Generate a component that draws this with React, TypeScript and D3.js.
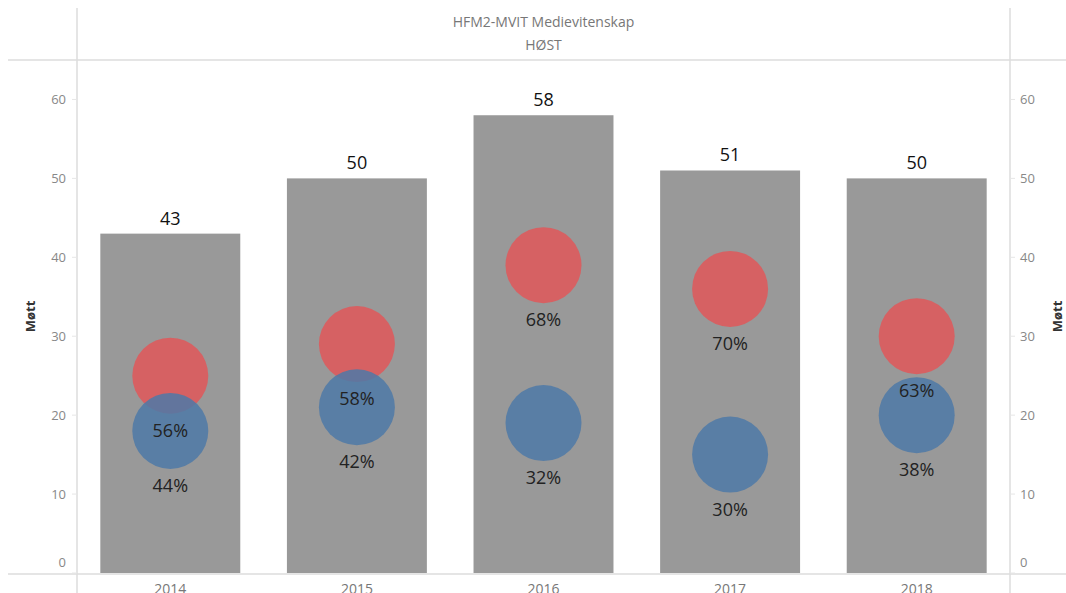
import React from 'react';
import * as d3 from 'd3';

const years = ['2014', '2015', '2016', '2017', '2018'];
const totals = [43, 50, 58, 51, 50];
const redValues = [25, 29, 39, 36, 30];
const blueValues = [18, 21, 19, 15, 20];
const redPct = ['56%', '58%', '68%', '70%', '63%'];
const bluePct = ['44%', '42%', '32%', '30%', '38%'];
const yTicks = [0, 10, 20, 30, 40, 50, 60];

const W = 1066;
const H = 593;
const left = 77;
const right = 1010;
const top = 60;
const base = 573;
const font = '"Open Sans", "Noto Sans", sans-serif';

const App = () => {
  const x = d3.scaleBand().domain(years).range([left, right]).paddingInner(0.25).paddingOuter(0.125);
  const y = d3.scaleLinear().domain([0, 65]).range([base, top]);
  const r = 38;
  const lineColor = '#dcdcdc';

  return (
    <svg width={W} height={H} style={{ position: 'absolute', left: 0, top: 0, background: '#fff' }}>
      {/* header */}
      <text x={(left + right) / 2} y={27} textAnchor="middle" fontFamily={font} fontSize={14} fill="#777">
        HFM2-MVIT Medievitenskap
      </text>
      <text x={(left + right) / 2} y={50} textAnchor="middle" fontFamily={font} fontSize={14} fill="#777">
        HØST
      </text>

      {/* bars */}
      {years.map((yr, i) => (
        <rect key={'b' + yr} x={x(yr)} y={y(totals[i])} width={x.bandwidth()}
              height={y(0) - y(totals[i])} fill="#999999" />
      ))}
      {years.map((yr, i) => (
        <text key={'t' + yr} x={x(yr)! + x.bandwidth() / 2} y={y(totals[i]) - 9} textAnchor="middle"
              fontFamily={font} fontSize={18} fill="#111">{totals[i]}</text>
      ))}

      {/* circles */}
      {years.map((yr, i) => (
        <circle key={'r' + yr} cx={x(yr)! + x.bandwidth() / 2} cy={y(redValues[i])} r={r}
                fill="#e15759" fillOpacity={0.85} />
      ))}
      {years.map((yr, i) => (
        <circle key={'c' + yr} cx={x(yr)! + x.bandwidth() / 2} cy={y(blueValues[i])} r={r}
                fill="#4e79a7" fillOpacity={0.85} />
      ))}
      {years.map((yr, i) => (
        <g key={'l' + yr} fontFamily={font} fontSize={18} fill="#222" textAnchor="middle">
          <text x={x(yr)! + x.bandwidth() / 2} y={y(redValues[i]) + 61}>{redPct[i]}</text>
          <text x={x(yr)! + x.bandwidth() / 2} y={y(blueValues[i]) + 61}>{bluePct[i]}</text>
        </g>
      ))}

      {/* grid lines */}
      <line x1={8} x2={W} y1={top} y2={top} stroke={lineColor} strokeWidth={1.5} />
      <line x1={8} x2={W} y1={base + 1} y2={base + 1} stroke={lineColor} strokeWidth={1.5} />
      <line x1={left} x2={left} y1={8} y2={H} stroke={lineColor} strokeWidth={1.5} />
      <line x1={right} x2={right} y1={8} y2={H} stroke={lineColor} strokeWidth={1.5} />

      {/* y axes */}
      {yTicks.map(t => {
        const ty = t === 0 ? y(t) - 11 : y(t);
        return (
          <g key={'yt' + t} fontFamily={font} fontSize={13} fill="#888">
            <line x1={left - 5} x2={left} y1={y(t)} y2={y(t)} stroke="#e6e6e6" />
            <text x={left - 11} y={ty} dy="0.35em" textAnchor="end">{t}</text>
            <line x1={right} x2={right + 5} y1={y(t)} y2={y(t)} stroke="#e6e6e6" />
            <text x={right + 10} y={ty} dy="0.35em" textAnchor="start">{t}</text>
          </g>
        );
      })}
      <text transform={`translate(35,${(top + base) / 2}) rotate(-90)`} textAnchor="middle"
            fontFamily={font} fontSize={13} fontWeight="bold" fill="#333">Møtt</text>
      <text transform={`translate(1062,${(top + base) / 2}) rotate(-90)`} textAnchor="middle"
            fontFamily={font} fontSize={13} fontWeight="bold" fill="#333">Møtt</text>

      {/* x axis */}
      {years.map(yr => (
        <text key={'x' + yr} x={x(yr)! + x.bandwidth() / 2} y={594} textAnchor="middle"
              fontFamily={font} fontSize={14} fill="#777">{yr}</text>
      ))}
    </svg>
  );
};

export default App;
